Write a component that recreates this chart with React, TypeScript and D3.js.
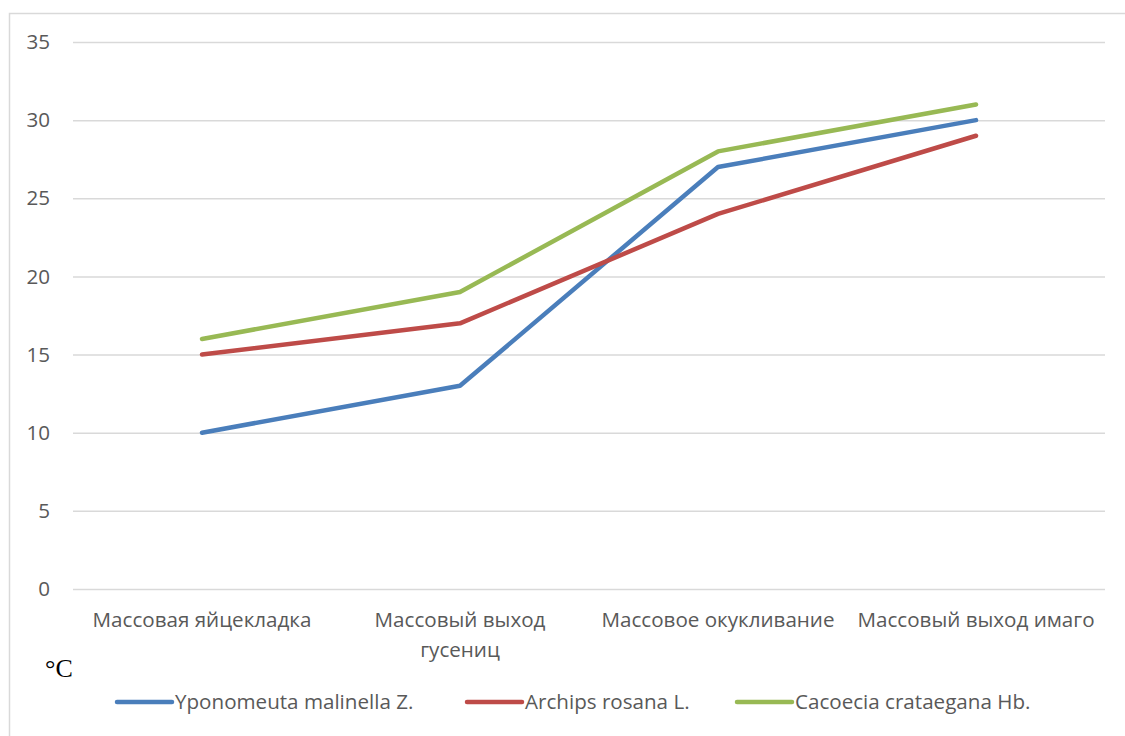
import React, { useEffect, useRef } from "react";
import * as d3 from "d3";

// stages of development
const categories = [
  "Массовая яйцекладка",
  "Массовый выход гусениц",
  "Массовое окукливание",
  "Массовый выход имаго",
];

const yponomeuta = [10, 13, 27, 30];
const archips = [15, 17, 24, 29];
const cacoecia = [16, 19, 28, 31];

const seriesNames = ["Yponomeuta malinella Z.", "Archips rosana L.", "Cacoecia crataegana Hb."];
const seriesColors = ["#4A7EBB", "#BE4B48", "#98B954"];
const yTicks = [0, 5, 10, 15, 20, 25, 30, 35];

const FONT = "'Open Sans', 'Liberation Sans', sans-serif";
const FS = 20.6;

function App() {
  const ref = useRef<SVGSVGElement>(null);

  useEffect(() => {
    drawChart();
  }, []);

  function drawChart() {
    const width = 1125;
    const height = 736;
    const margin = { top: 42, right: 20, bottom: 147, left: 73 };

    const svg = d3.select(ref.current);
    svg.selectAll("*").remove();

    // chart area frame (only left and top edges are visible)
    svg.append("rect")
      .attr("x", 9.5).attr("y", 13.5)
      .attr("width", 1200).attr("height", 800)
      .attr("fill", "none").attr("stroke", "#d9d9d9").attr("stroke-width", 1.5);

    const xScale = d3.scaleBand().domain(categories).range([margin.left, width - margin.right]);
    const yScale = d3.scaleLinear().domain([0, 35]).range([height - margin.bottom, margin.top]);

    // horizontal grid
    svg.append("g")
      .attr("transform", `translate(${margin.left},0)`)
      .call(d3.axisLeft(yScale).tickValues(yTicks).tickSize(-(width - margin.left - margin.right)).tickFormat(() => ""))
      .call((g) => g.select(".domain").remove())
      .call((g) => g.selectAll("line").attr("stroke", "#d9d9d9").attr("stroke-width", 1.5));

    // y labels
    svg.append("g").selectAll("text").data(yTicks).join("text")
      .attr("x", 50).attr("y", (d) => yScale(d)).attr("dy", "0.35em")
      .attr("text-anchor", "end")
      .attr("font-family", FONT).attr("font-size", FS).attr("fill", "#595959")
      .text((d) => d);

    // x labels with wrapping
    const xLabels = svg.append("g").selectAll("text").data(categories).join("text")
      .attr("font-family", FONT).attr("font-size", FS).attr("fill", "#595959")
      .attr("text-anchor", "middle")
      .attr("transform", (d) => `translate(${xScale(d)! + xScale.bandwidth() / 2},${yScale(0) + 38})`);
    xLabels.each(function (d) {
      const t = d3.select(this);
      const words = d.split(" ");
      let line: string[] = [];
      let tspan = t.append("tspan").attr("x", 0).attr("dy", 0);
      for (const w of words) {
        line.push(w);
        tspan.text(line.join(" "));
        if ((tspan.node() as SVGTSpanElement).getComputedTextLength() > 245 && line.length > 1) {
          line.pop();
          tspan.text(line.join(" "));
          line = [w];
          tspan = t.append("tspan").attr("x", 0).attr("dy", "1.45em").text(w);
        }
      }
    });

    // lines
    const allSeries = [yponomeuta, archips, cacoecia];
    const line = d3.line<number>()
      .x((d, i) => xScale(categories[i])! + xScale.bandwidth() / 2)
      .y((d) => yScale(d));
    svg.append("g").selectAll("path").data(allSeries).join("path")
      .attr("d", (d) => line(d))
      .attr("fill", "none")
      .attr("stroke", (d, i) => seriesColors[i])
      .attr("stroke-width", 4.5)
      .attr("stroke-linecap", "round")
      .attr("stroke-linejoin", "round");

    // unit label
    svg.append("text")
      .attr("x", 45).attr("y", 677)
      .attr("font-family", "'Liberation Serif', 'DejaVu Serif', serif")
      .attr("font-size", 26).attr("fill", "#000")
      .text("°C");

    // legend
    const legendX = [117, 467, 737];
    const legend = svg.append("g").selectAll("g").data(seriesNames).join("g")
      .attr("transform", (d, i) => `translate(${legendX[i]},702)`);
    legend.append("line")
      .attr("x1", 0).attr("x2", 55).attr("y1", 0).attr("y2", 0)
      .attr("stroke", (d, i) => seriesColors[i]).attr("stroke-width", 4.5).attr("stroke-linecap", "round");
    legend.append("text")
      .attr("x", 58).attr("dy", "0.35em")
      .attr("font-family", FONT).attr("font-size", FS).attr("fill", "#595959")
      .text((d) => d);
  }

  return (
    <svg
      ref={ref}
      width={1125}
      height={736}
      style={{ position: "absolute", left: 0, top: 0, background: "#fff" }}
    />
  );
}

export default App;
